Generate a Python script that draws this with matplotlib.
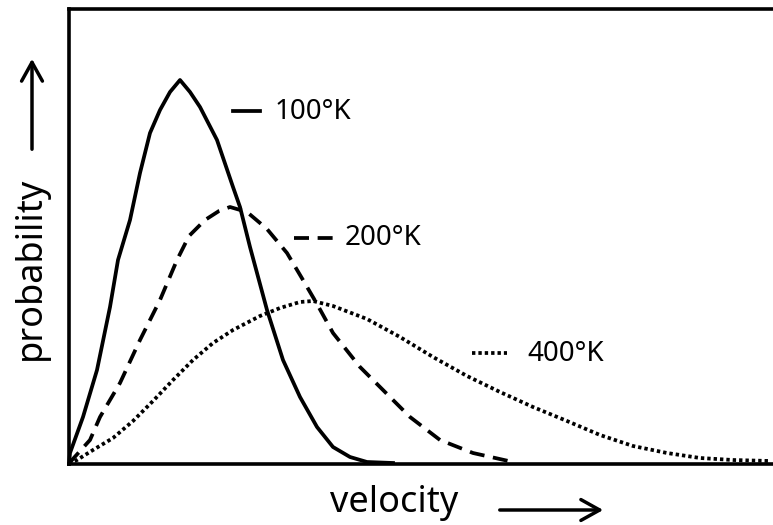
import matplotlib
matplotlib.use("Agg")
import matplotlib.pyplot as plt

# Curves (arbitrary units: velocity, probability)
v_100 = [0, 1, 14, 28, 41, 49, 61, 71, 81, 91, 101, 111, 121, 131, 148, 164, 171, 181, 198, 214, 231, 248, 264, 281, 298, 324]
p_100 = [0, 11, 47, 94, 157, 204, 244, 291, 331, 354, 372, 384, 372, 357, 324, 277, 257, 217, 154, 104, 67, 37, 17, 7, 2, 1]

v_200 = [0, 3, 21, 31, 51, 71, 91, 108, 120, 136, 150, 161, 178, 191, 198, 218, 234, 248, 264, 291, 314, 341, 371, 404, 444]
p_200 = [0, 4, 24, 47, 81, 124, 164, 204, 228, 244, 253, 257, 252, 241, 235, 211, 184, 160, 131, 97, 74, 47, 24, 11, 2]

v_400 = [0, 8, 24, 44, 64, 84, 104, 124, 144, 164, 191, 211, 231, 244, 264, 298, 331, 364, 398, 431, 464, 498, 531, 564, 598, 631, 664, 701]
p_400 = [0, 4, 14, 26, 43, 63, 84, 104, 121, 134, 148, 156, 162, 163, 158, 145, 127, 107, 88, 72, 57, 43, 29, 18, 11, 6, 4, 3]

labels = ["100°K", "200°K", "400°K"]

W, H = 773, 525
fig = plt.figure(figsize=(W / 100, H / 100), dpi=100)
ax = fig.add_axes([69 / W, (H - 464) / H, (W - 69) / W, (464 - 9) / H])
ax.set_xlim(0, 704)
ax.set_ylim(0, 455)
ax.set_xticks([])
ax.set_yticks([])
for s in ["left", "bottom", "top"]:
    ax.spines[s].set_linewidth(2.6)
    ax.spines[s].set_color("black")
ax.spines["right"].set_visible(False)

lw = 2.7
ax.plot(v_100, p_100, color="black", lw=lw, solid_joinstyle="round", clip_on=False)
ax.plot(v_200, p_200, color="black", lw=lw, dashes=(4.0, 2.3), clip_on=False)
ax.plot(v_400, p_400, color="black", lw=lw, dashes=(0.9, 0.8), clip_on=False)

font = "Noto Sans"
# key marks and labels
ax.plot([164, 191], [353, 353], color="black", lw=lw)
ax.plot([225, 266], [226, 226], color="black", lw=lw, dashes=(4.0, 2.3))
ax.plot([403, 438], [111, 111], color="black", lw=lw, dashes=(0.9, 0.8))
ax.text(206, 352, labels[0], fontsize=20, family=font, va="center", ha="left")
ax.text(276, 226, labels[1], fontsize=20, family=font, va="center", ha="left")
ax.text(458, 110, labels[2], fontsize=20, family=font, va="center", ha="left")

# axis labels with arrows
fig.text(394 / W, 1 - 503 / H, "velocity", fontsize=26, family=font, ha="center", va="center")
fig.text(31 / W, 1 - 268 / H, "probability", fontsize=26, family=font, ha="center", va="center", rotation=90)
fig.add_artist(matplotlib.patches.FancyArrowPatch((497 / W, 1 - 510 / H), (606 / W, 1 - 510 / H),
               transform=fig.transFigure, arrowstyle="->,head_length=9,head_width=5", lw=2.5,
               color="black", mutation_scale=1.5))
fig.add_artist(matplotlib.patches.FancyArrowPatch((32 / W, 1 - 152 / H), (32 / W, 1 - 56 / H),
               transform=fig.transFigure, arrowstyle="->,head_length=9,head_width=5", lw=2.5,
               color="black", mutation_scale=1.5))

fig.savefig("out.png", dpi=100)
